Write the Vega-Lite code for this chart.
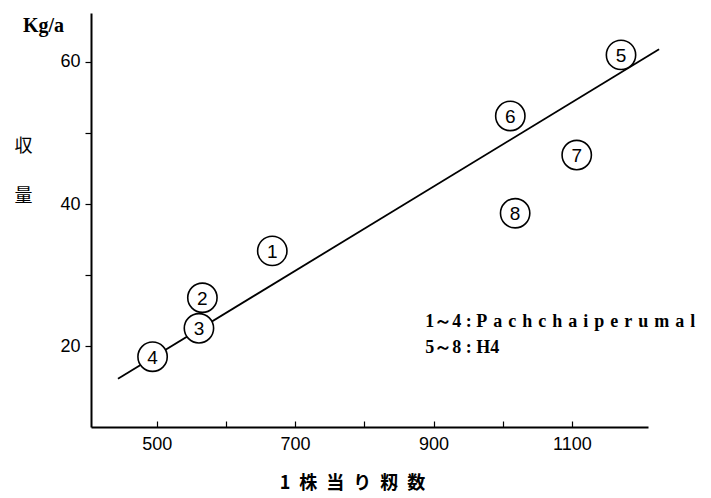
{
  "$schema": "https://vega.github.io/schema/vega-lite/v6.json",
  "autosize": "none",
  "width": 557,
  "height": 414,
  "padding": {"left": 91, "top": 13, "right": 63, "bottom": 71},
  "background": "white",
  "title": {
    "text": "Kg/a",
    "anchor": "start",
    "frame": "group",
    "font": "Liberation Serif",
    "fontSize": 20,
    "fontWeight": "bold",
    "color": "black",
    "baseline": "alphabetic",
    "offset": 0,
    "dx": -68,
    "dy": 39
  },
  "config": {
    "view": {"stroke": null},
    "axis": {
      "grid": false,
      "domainColor": "black",
      "domainWidth": 2,
      "tickColor": "black",
      "tickWidth": 1.2,
      "labelColor": "black",
      "labelFont": "Liberation Sans",
      "labelFontSize": 18,
      "titleColor": "black"
    }
  },
  "datasets": {
    "plots": [
      {"no": "1", "count": 667, "yield": 33.4},
      {"no": "2", "count": 566, "yield": 26.8},
      {"no": "3", "count": 561, "yield": 22.5},
      {"no": "4", "count": 494, "yield": 18.5},
      {"no": "5", "count": 1171, "yield": 61.0},
      {"no": "6", "count": 1011, "yield": 52.4},
      {"no": "7", "count": 1107, "yield": 46.9},
      {"no": "8", "count": 1018, "yield": 38.7}
    ],
    "fit": [
      {"count": 444, "yield": 15.4},
      {"count": 1226, "yield": 61.8}
    ],
    "notes": [
      {"text": "1～4 : P\u2004a\u2004c\u2004h\u2004c\u2004h\u2004a\u2004i\u2004p\u2004e\u2004r\u2004u\u2004m\u2004a\u2004l", "count": 888, "yield": 23.4},
      {"text": "5～8 : H4", "count": 888, "yield": 19.7}
    ]
  },
  "encoding": {
    "x": {
      "field": "count",
      "type": "quantitative",
      "scale": {"domain": [405, 1210], "nice": false, "zero": false},
      "axis": {
        "values": [500, 600, 700, 800, 900, 1000, 1100],
        "labelExpr": "datum.value % 200 == 100 ? datum.label : ''",
        "format": "d",
        "tickSize": -6,
        "labelPadding": 14,
        "title": "1\u2002株\u2002当\u2002り\u2002籾\u2002数",
        "titleFont": "Noto Sans CJK JP",
        "titleFontSize": 18,
        "titleFontWeight": "bold",
        "titleX": 261,
        "titleY": 56,
        "titleBaseline": "middle"
      }
    },
    "y": {
      "field": "yield",
      "type": "quantitative",
      "scale": {"domain": [8.6, 66.9], "nice": false, "zero": false},
      "axis": {
        "values": [20, 30, 40, 50, 60],
        "labelExpr": "datum.value % 20 == 0 ? datum.label : ''",
        "tickSize": 6,
        "labelPadding": 5,
        "title": ["収", "量"],
        "titleFont": "Noto Sans CJK JP",
        "titleFontSize": 18,
        "titleFontWeight": "normal",
        "titleAngle": 0,
        "titleLineHeight": 50,
        "titleAlign": "center",
        "titleBaseline": "top",
        "titleX": -68,
        "titleY": 124
      }
    }
  },
  "layer": [
    {
      "data": {"name": "fit"},
      "mark": {"type": "line", "color": "black", "strokeWidth": 1.8}
    },
    {
      "data": {"name": "plots"},
      "mark": {"type": "point", "shape": "circle", "filled": false, "fill": "white", "fillOpacity": 1, "stroke": "black", "strokeWidth": 1.6, "size": 860, "opacity": 1}
    },
    {
      "data": {"name": "plots"},
      "mark": {"type": "text", "font": "Liberation Sans", "fontSize": 19, "color": "black", "align": "center", "baseline": "middle", "dy": 1},
      "encoding": {"text": {"field": "no"}}
    },
    {
      "data": {"name": "notes"},
      "mark": {"type": "text", "font": "Liberation Serif", "fontSize": 18, "fontWeight": "bold", "color": "black", "align": "left", "baseline": "middle"},
      "encoding": {"text": {"field": "text"}}
    }
  ]
}
